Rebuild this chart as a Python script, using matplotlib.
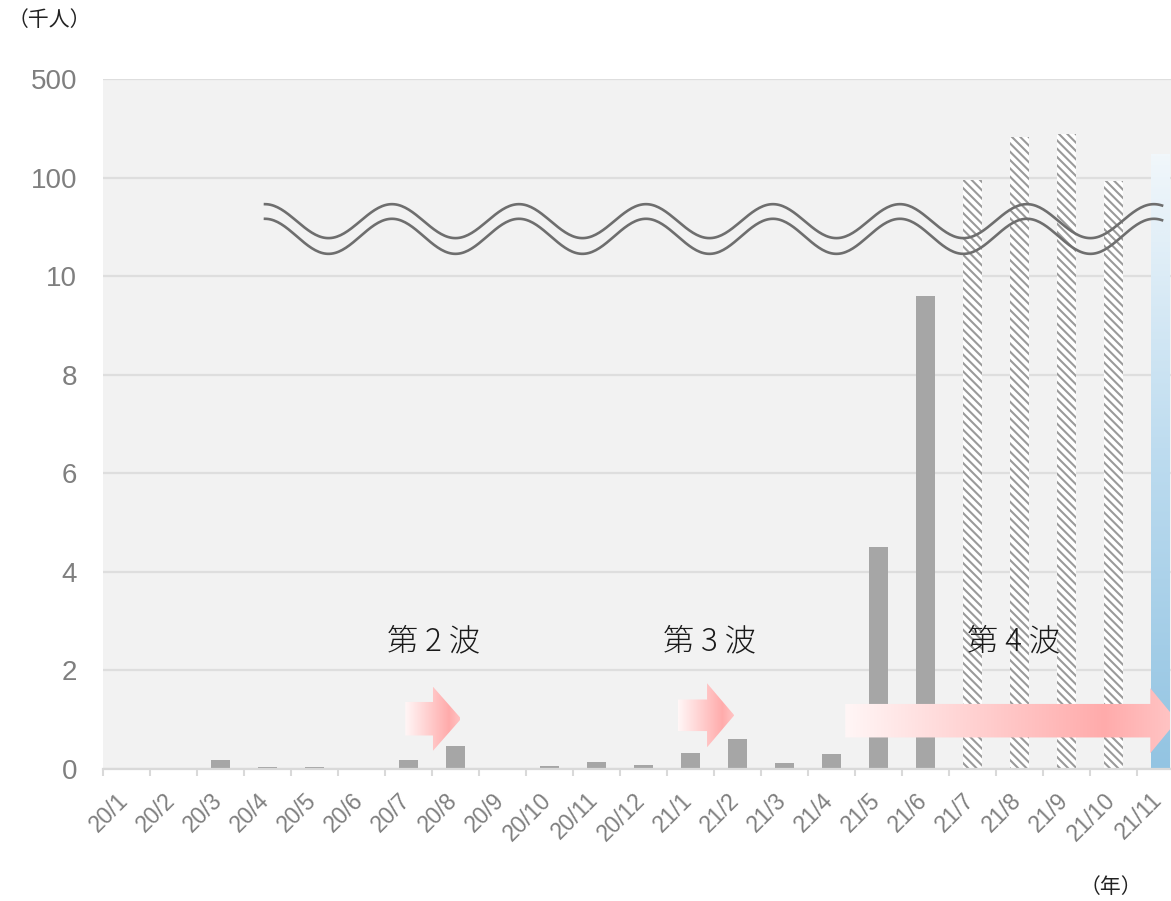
import numpy as np
import matplotlib
matplotlib.use("Agg")
import matplotlib.pyplot as plt
from matplotlib.colors import LinearSegmentedColormap
from matplotlib.patches import Polygon
from matplotlib.transforms import ScaledTranslation

plt.rcParams["font.family"] = ["Liberation Sans", "Noto Sans CJK JP", "DejaVu Sans"]
plt.rcParams["hatch.linewidth"] = 1.5

CJK = ["Noto Sans CJK JP", "DejaVu Sans"]

# monthly values (thousand people)
months = ["20/1", "20/2", "20/3", "20/4", "20/5", "20/6", "20/7", "20/8",
          "20/9", "20/10", "20/11", "20/12", "21/1", "21/2", "21/3", "21/4",
          "21/5", "21/6", "21/7", "21/8", "21/9", "21/10", "21/11"]
values = [0, 0.01, 0.18, 0.04, 0.04, 0.01, 0.18, 0.47,
          0.03, 0.06, 0.14, 0.09, 0.32, 0.61, 0.13, 0.30,
          4.5, 9.6, 98, 264, 275, 97, 196]
kinds = ["solid"] * 18 + ["hatch"] * 4 + ["blue"]

y_ticks = [0, 2, 4, 6, 8, 10, 100, 500]

wave_labels = ["第 2 波", "第 3 波", "第 4 波"]
wave_label_x = [6.53, 12.41, 18.88]
# arrows: x start, x head base, x tip, y centre, body half height, head half height
arrows = [
    (5.93, 6.52, 7.12, 1.02, 0.34, 0.65),
    (11.73, 12.35, 12.93, 1.09, 0.32, 0.65),
    (15.29, 21.78, 22.35, 0.98, 0.34, 0.66),
]


def fwd(v):
    v = np.asarray(v, dtype=float)
    return np.where(v <= 10, v,
                    np.where(v <= 100, 10 + (v - 10) / 45, 12 + (v - 100) / 200))


def inv(u):
    u = np.asarray(u, dtype=float)
    return np.where(u <= 10, u,
                    np.where(u <= 12, 10 + (u - 10) * 45, 100 + (u - 12) * 200))


def gradient(ax, clip, extent, stops, horizontal=True, zorder=3):
    cmap = LinearSegmentedColormap.from_list("g", stops)
    if horizontal:
        img = np.linspace(0, 1, 256)[None, :]
    else:
        # rows are even in data units; colour them even on screen
        v = np.linspace(extent[2], extent[3], 3000)
        u = fwd(v)
        img = ((u - u[0]) / (u[-1] - u[0]))[:, None]
    im = ax.imshow(img, cmap=cmap, extent=extent, origin="lower",
                   aspect="auto", interpolation="bilinear", zorder=zorder)
    im.set_clip_path(clip)
    return im


fig = plt.figure(figsize=(11.71, 9.01), dpi=100)
ax = fig.add_axes([103 / 1171, 132 / 901, 1068 / 1171, 690 / 901])
ax.set_facecolor("#f2f2f2")
ax.set_yscale("function", functions=(fwd, inv))

x = np.arange(len(months))
w = 0.41
vals = np.array(values)
is_solid = np.array([k == "solid" for k in kinds])
is_hatch = np.array([k == "hatch" for k in kinds])
is_blue = np.array([k == "blue" for k in kinds])

ax.bar(x[is_solid], vals[is_solid], width=w, color="#a6a6a6", zorder=2)
ax.bar(x[is_hatch], vals[is_hatch], width=w, color="white",
       edgecolor="#9a9a9a", hatch="\\\\\\\\", linewidth=0, zorder=2)
blue = ax.bar(x[is_blue], vals[is_blue], width=w, color="none",
              linewidth=0, zorder=2)
for r in blue:
    gradient(ax, r, (r.get_x(), r.get_x() + r.get_width(), 0, r.get_height()),
             ["#93c4e2", "#bcdbef", "#f1f7fb"], horizontal=False, zorder=2)

# pink gradient arrows
for xs, xh, xt, yc, bh, hh in arrows:
    verts = [(xs, yc - bh), (xh, yc - bh), (xh, yc - hh), (xt, yc),
             (xh, yc + hh), (xh, yc + bh), (xs, yc + bh)]
    poly = Polygon(verts, closed=True, facecolor="none", edgecolor="none")
    ax.add_patch(poly)
    gradient(ax, poly, (xs, xt, yc - hh, yc + hh),
             [(0, "#fff6f6"), (0.78, "#ffabab"), (1, "#ffc6c6")], zorder=4)

for lab, lx in zip(wave_labels, wave_label_x):
    ax.text(lx, 2.58, lab, ha="center", va="center", fontsize=22.5,
            color="#1a1a1a", family=CJK, fontweight="light", zorder=7)

# axis break waves
wx = np.linspace(0.1517, 0.9916, 500)
ph = 2 * np.pi * (wx - wx[0]) / 0.1189
for yc, amp in [(0.794, 0.0246), (0.772, 0.0254)]:
    ax.plot(wx, yc + amp * np.cos(ph), transform=ax.transAxes,
            color="#6e6e6e", lw=1.9, zorder=6)

ax.set_yticks(y_ticks)
ax.set_yticklabels([str(t) for t in y_ticks])
ax.set_xticks(x)
ax.set_xticklabels(months, rotation=45, ha="right", va="top")
ax.set_xticks(np.arange(-0.5, len(months), 1), minor=True)
ax.set_xlim(-0.5, 22.22)
ax.set_ylim(0, 500)
ax.tick_params(axis="x", which="major", length=0, pad=14, labelsize=16.5,
               labelcolor="#7f7f7f")
ax.tick_params(axis="x", which="minor", length=4.7, width=1.5, color="#d9d9d9")
ax.tick_params(axis="y", length=0, pad=18.7, labelsize=20, labelcolor="#7f7f7f")
off = ScaledTranslation(6 / 100, 0, fig.dpi_scale_trans)
for lab in ax.get_xticklabels():
    lab.set_transform(lab.get_transform() + off)

ax.yaxis.grid(True, color="#dedede", lw=1.6)
ax.set_axisbelow(True)
for s in ["top", "right", "left"]:
    ax.spines[s].set_visible(False)
ax.spines["bottom"].set_color("#d9d9d9")
ax.spines["bottom"].set_linewidth(1.6)

fig.text(8 / 1171, 1 - 20 / 901, "（千人）", fontsize=15, ha="left",
         va="center", color="#222222", family=CJK)
fig.text(1080 / 1171, 1 - 887 / 901, "（年）", fontsize=15, ha="left",
         va="center", color="#222222", family=CJK)

fig.savefig("out.png", dpi=100)
